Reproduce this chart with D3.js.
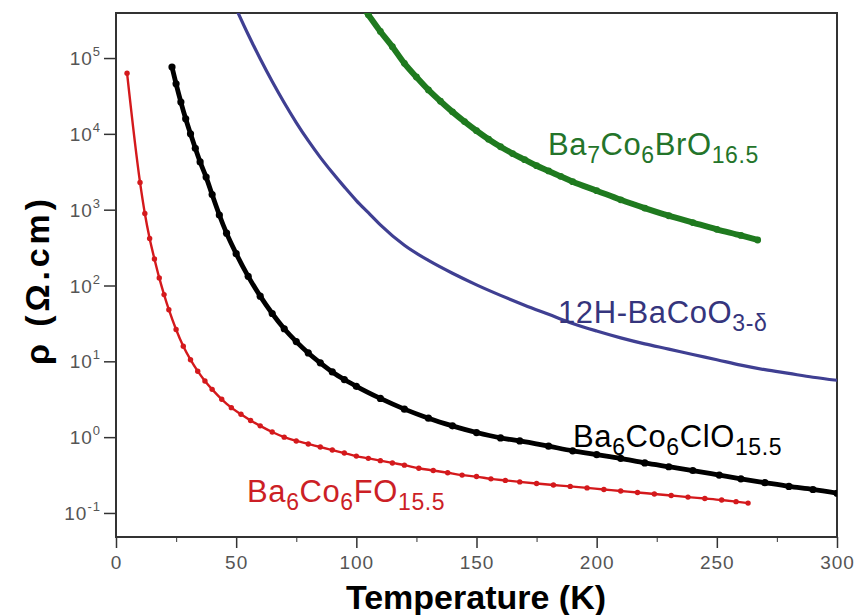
<!DOCTYPE html>
<html>
<head>
<meta charset="utf-8">
<script src="https://cdn.jsdelivr.net/npm/d3@7"></script>
<style>
  body { margin: 0; background: #fff; }
  svg { display: block; font-family: "Liberation Sans", Arial, sans-serif; }
</style>
</head>
<body>
<script>
// resistivity vs temperature
var redT = [4.6, 10, 12, 14, 16, 18, 20, 22, 25, 28, 31, 34, 37, 40, 44, 48, 52, 56, 60, 65, 70, 75, 80, 85, 90, 95, 100, 105, 110, 115, 120, 126, 132, 138, 144, 150, 156, 162, 168, 175, 182, 189, 196, 203, 210, 217, 224, 231, 238, 245, 252, 258, 263];
var redRho = [63100, 2290, 891, 417, 224, 126, 75.9, 47.9, 26.3, 15.8, 10.5, 7.41, 5.50, 4.27, 3.16, 2.45, 2.00, 1.66, 1.41, 1.17, 1.00, 0.891, 0.813, 0.741, 0.676, 0.617, 0.562, 0.525, 0.490, 0.457, 0.427, 0.389, 0.363, 0.339, 0.316, 0.302, 0.282, 0.269, 0.257, 0.245, 0.234, 0.224, 0.214, 0.204, 0.195, 0.186, 0.178, 0.170, 0.162, 0.155, 0.148, 0.141, 0.135];

var blackT = [23.3, 25, 27, 29, 31, 33, 35, 37.5, 40, 43, 46, 50, 55, 60, 65, 70, 75, 80, 85, 90, 95, 100, 110, 120, 130, 140, 150, 160, 168, 180, 190, 200, 210, 220, 230, 240, 251, 260, 270, 280, 290, 300];
var blackRho = [75900, 45700, 26300, 15800, 10000, 6460, 4270, 2690, 1580, 851, 490, 263, 132, 72.4, 42.7, 26.9, 18.2, 12.9, 9.55, 7.24, 5.75, 4.68, 3.24, 2.34, 1.78, 1.41, 1.15, 0.977, 0.891, 0.759, 0.661, 0.589, 0.525, 0.457, 0.407, 0.363, 0.316, 0.282, 0.251, 0.224, 0.204, 0.182];

var blueT = [50, 55, 60, 65, 70, 75, 80, 85, 90, 95, 100, 105, 110, 120, 130, 140, 150, 160, 170, 180, 190, 200, 210, 220, 230, 240, 250, 260, 270, 280, 290, 300];
var blueRho = [447000, 204000, 97700, 49000, 25700, 14100, 8130, 4900, 3090, 2000, 1320, 912, 631, 339, 214, 145, 102, 74.1, 55.0, 41.7, 31.6, 25.1, 20.4, 17.0, 14.5, 12.3, 10.5, 8.91, 7.76, 6.92, 6.17, 5.62];

var greenT = [103, 105, 110, 115, 120, 125, 130, 135, 140, 145, 150, 155, 160, 165, 170, 175, 180, 185, 190, 200, 210, 220, 230, 240, 250, 260, 267];
var greenRho = [457000, 372000, 224000, 141000, 85100, 56200, 38000, 26900, 19500, 14500, 11000, 8510, 6760, 5500, 4570, 3800, 3240, 2750, 2340, 1780, 1350, 1050, 832, 676, 550, 457, 398];

var xTicks = [0, 50, 100, 150, 200, 250, 300];
var xMinor = [25, 75, 125, 175, 225, 275];
var yExp = [-1, 0, 1, 2, 3, 4, 5];

var width = 856, height = 615;
var margin = {top: 13, right: 19, bottom: 78, left: 116};

var svg = d3.select("body").append("svg")
    .attr("width", width)
    .attr("height", height);

var x = d3.scaleLinear()
    .domain([0, 300])
    .range([margin.left, width - margin.right]);

var y = d3.scaleLog()
    .domain([Math.pow(10, -1.317), Math.pow(10, 5.594)])
    .range([height - margin.bottom, margin.top]);

svg.append("clipPath").attr("id", "plot")
  .append("rect")
    .attr("x", x(0)).attr("y", margin.top)
    .attr("width", x(300) - x(0))
    .attr("height", y.range()[0] - margin.top);

// x axis, major and minor ticks
var xAxis = svg.append("g")
    .attr("transform", "translate(0," + y.range()[0] + ")")
    .call(d3.axisBottom(x).tickValues(xTicks).tickSize(11).tickPadding(8).tickFormat(d3.format("d")));
xAxis.select(".domain").remove();
xAxis.selectAll("line").attr("stroke", "#333").attr("stroke-width", 1.5);
xAxis.selectAll("text").attr("font-size", 19).attr("fill", "#555")
    .attr("letter-spacing", 1)
    .attr("font-family", "'Liberation Sans', Arial, sans-serif");

var xMin = svg.append("g")
    .attr("transform", "translate(0," + y.range()[0] + ")")
    .call(d3.axisBottom(x).tickValues(xMinor).tickSize(5).tickFormat(""));
xMin.select(".domain").remove();
xMin.selectAll("line").attr("stroke", "#555").attr("stroke-width", 1.2);

// y axis
var yAxis = svg.append("g")
    .attr("transform", "translate(" + x(0) + ",0)")
    .call(d3.axisLeft(y).tickValues(yExp.map(function(e) { return Math.pow(10, e); })).tickSize(12).tickFormat(""));
yAxis.select(".domain").remove();
yAxis.selectAll("line").attr("stroke", "#333").attr("stroke-width", 1.5);

var yLab = svg.append("g").selectAll("text")
    .data(yExp)
  .enter().append("text")
    .attr("x", 101)
    .attr("y", function(d) { return y(Math.pow(10, d)) + 7; })
    .attr("text-anchor", "end")
    .attr("fill", "#555")
    .attr("letter-spacing", 1)
    .attr("font-size", 19);
yLab.append("tspan").text("10");
yLab.append("tspan")
    .attr("dy", -9)
    .attr("font-size", 13)
    .text(function(d) { return d; });

// frame
svg.append("rect")
    .attr("x", x(0)).attr("y", margin.top)
    .attr("width", x(300) - x(0))
    .attr("height", y.range()[0] - margin.top)
    .attr("fill", "none")
    .attr("stroke", "#333")
    .attr("stroke-width", 2);

// series
function zip(ts, rs) {
  return ts.map(function(t, i) { return {t: t, r: rs[i]}; });
}

var line = d3.line()
    .x(function(d) { return x(d.t); })
    .y(function(d) { return y(d.r); })
    .curve(d3.curveMonotoneX);

var series = [
  {data: zip(blueT, blueRho), color: "#3f3f92", width: 3.2, dot: 0},
  {data: zip(greenT, greenRho), color: "#1f7a1f", width: 6, dot: 3.4},
  {data: zip(blackT, blackRho), color: "#000", width: 4.8, dot: 3.6},
  {data: zip(redT, redRho), color: "#d4191c", width: 2.4, dot: 2.7}
];

var plot = svg.append("g").attr("clip-path", "url(#plot)");

series.forEach(function(s) {
  plot.append("path")
      .datum(s.data)
      .attr("fill", "none")
      .attr("stroke", s.color)
      .attr("stroke-width", s.width)
      .attr("stroke-linejoin", "round")
      .attr("d", line);
  if (s.dot > 0) {
    plot.append("g").selectAll("circle")
        .data(s.data)
      .enter().append("circle")
        .attr("cx", function(d) { return x(d.t); })
        .attr("cy", function(d) { return y(d.r); })
        .attr("r", s.dot)
        .attr("fill", s.color);
  }
});

// series labels with subscripts
function label(px, py, color, parts) {
  var t = svg.append("text")
      .attr("x", px).attr("y", py)
      .attr("fill", color)
      .attr("letter-spacing", 0.6)
      .attr("font-size", 31);
  parts.forEach(function(p) {
    if (p[1]) {
      t.append("tspan").attr("font-size", 23).attr("dy", 8).text(p[0]);
    } else {
      t.append("tspan").attr("dy", p[2] || 0).text(p[0]);
    }
  });
}

label(548, 155, "#24742a", [["Ba"], ["7", 1], ["Co", 0, -8], ["6", 1], ["BrO", 0, -8], ["16.5", 1]]);
label(558, 323, "#35357d", [["12H-BaCoO"], ["3-\u03b4", 1]]);
label(573, 447, "#000", [["Ba"], ["6", 1], ["Co", 0, -8], ["6", 1], ["ClO", 0, -8], ["15.5", 1]]);
label(247, 502, "#cc1f26", [["Ba"], ["6", 1], ["Co", 0, -8], ["6", 1], ["FO", 0, -8], ["15.5", 1]]);

// axis titles
svg.append("text")
    .attr("x", 476).attr("y", 609)
    .attr("text-anchor", "middle")
    .attr("font-size", 34)
    .attr("font-weight", "bold")
    .text("Temperature (K)");

svg.append("text")
    .attr("transform", "translate(49,282) rotate(-90)")
    .attr("text-anchor", "middle")
    .attr("font-size", 34)
    .attr("font-weight", "bold")
    .attr("textLength", 166)
    .attr("lengthAdjust", "spacing")
    .text("\u03c1 (\u03a9.cm)");
</script>
</body>
</html>
